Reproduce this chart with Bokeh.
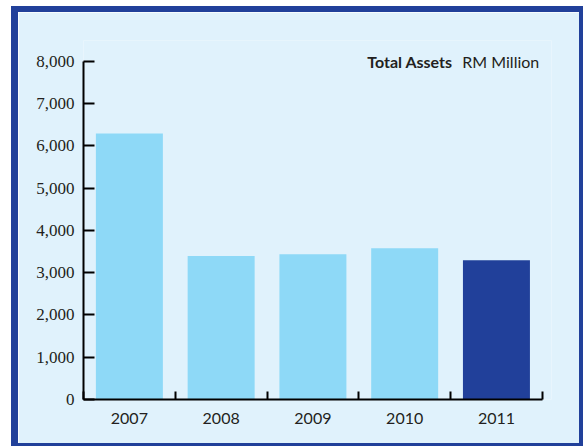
from bokeh.plotting import figure
from bokeh.models import Range1d, FixedTicker, NumeralTickFormatter, ColumnDataSource, Label
from bokeh.embed import file_html
from bokeh.resources import INLINE

# ---- data ----
years = ["2007", "2008", "2009", "2010", "2011"]
total_assets = [6290, 3390, 3435, 3577, 3293]
y_ticks = [0, 1000, 2000, 3000, 4000, 5000, 6000, 7000, 8000]
highlight_year = "2011"

# ---- styles ----
LIGHT_BG = "#E0F2FC"
BAR_LIGHT = "#8ED9F7"
DARK_BLUE = "#21409A"
TEXT = "#231F20"

centers = [i + 0.5 for i in range(len(years))]
bounds = [float(i) for i in range(len(years) + 1)]
src = ColumnDataSource(dict(
    x=centers,
    top=total_assets,
    color=[DARK_BLUE if y == highlight_year else BAR_LIGHT for y in years],
))

n = len(years)
y_top = y_ticks[-1]
p = figure(width=561, height=431,
           x_range=Range1d(0, n + 0.1), y_range=Range1d(0, y_top * 1.061),
           output_backend="svg", toolbar_location=None,
           min_border_left=65, min_border_right=28, min_border_top=28, min_border_bottom=44,
           background_fill_color=LIGHT_BG, border_fill_color=LIGHT_BG,
           outline_line_color=None)
# dark frame drawn as an outer shadow so it does not change the layout
p.styles = {
    "margin-left": "18px",
    "margin-top": "12px",
    "box-shadow": "-1px 0px 0px 6px " + DARK_BLUE,
}

p.vbar(x="x", top="top", width=0.73, color="color", line_color=None, source=src)

p.xgrid.visible = False
p.ygrid.visible = False

# x axis: labels at centres, ticks at category boundaries
xa = p.xaxis[0]
xa.ticker = FixedTicker(ticks=centers, minor_ticks=bounds)
xa.major_label_overrides = {c: y for c, y in zip(centers, years)}
xa.bounds = (0, n)
xa.major_tick_line_color = None
xa.minor_tick_line_color = "black"
xa.minor_tick_line_width = 2
xa.minor_tick_in = 8
xa.minor_tick_out = 0
xa.axis_line_color = "black"
xa.axis_line_width = 2
xa.major_label_text_font = "Lato"
xa.major_label_text_font_size = "16px"
xa.major_label_text_color = TEXT
xa.major_label_standoff = 7

ya = p.yaxis[0]
ya.ticker = FixedTicker(ticks=y_ticks)
ya.formatter = NumeralTickFormatter(format="0,0")
ya.bounds = (0, y_top)
ya.major_tick_in = 11
ya.major_tick_out = 0
ya.major_tick_line_width = 2
ya.major_tick_line_color = "black"
ya.minor_tick_line_color = None
ya.axis_line_color = "black"
ya.axis_line_width = 2
ya.major_label_text_font = "Liberation Serif"
ya.major_label_text_font_size = "17px"
ya.major_label_text_color = TEXT
ya.major_label_standoff = 9

p.add_layout(Label(x=n, y=y_top, x_offset=-175, y_offset=0,
                   text="Total Assets", text_font="Lato", text_font_style="bold",
                   text_font_size="16px", text_color=TEXT,
                   text_align="left", text_baseline="alphabetic"))
p.add_layout(Label(x=n, y=y_top, x_offset=-80, y_offset=0,
                   text="RM Million", text_font="Lato",
                   text_font_size="16px", text_color=TEXT,
                   text_align="left", text_baseline="alphabetic"))

open("out.html", "w").write(file_html(p, INLINE))
